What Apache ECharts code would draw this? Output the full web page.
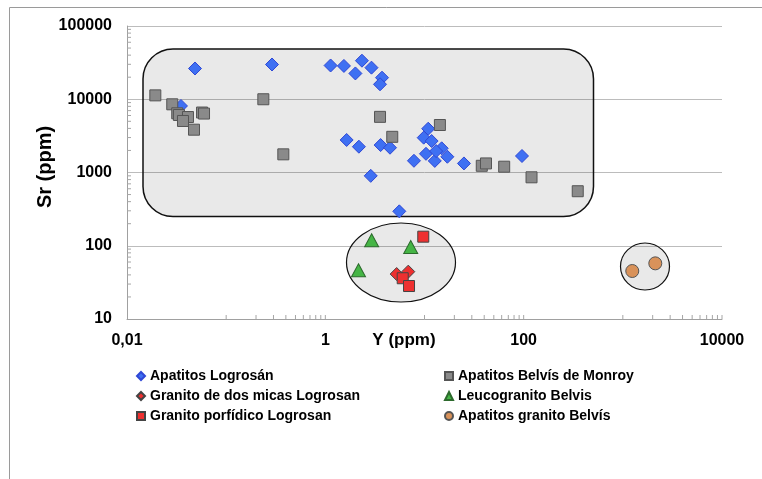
<!DOCTYPE html>
<html>
<head>
<meta charset="utf-8">
<script src="https://cdn.jsdelivr.net/npm/echarts@6/dist/echarts.min.js"></script>
<style>html,body{margin:0;padding:0;background:#fff;}#c{width:762px;height:479px;}</style>
</head>
<body>
<div id="c"></div>
<script>
// ---- data (Y ppm, Sr ppm) ----
const apatitosLogrosan = [[0.0485,26300],[0.035,8100],[0.29,29800],[1.13,28900],[1.54,28500],[2.01,22500],[2.34,33600],[2.92,27000],[3.73,19700],[3.56,16000],[1.64,2780],[2.18,2250],[3.61,2370],[4.49,2180],[2.87,900],[5.57,295],[10.9,3960],[9.82,2990],[11.8,2690],[14.9,2140],[10.35,1800],[12.7,1440],[17.0,1640],[7.83,1445],[25.0,1330],[96.2,1680],[13.1,1960]];
const apatitosBelvisMonroy = [[0.0193,11300],[0.0286,8530],[0.0321,6430],[0.0334,6100],[0.0412,5720],[0.0367,5050],[0.0571,6590],[0.0598,6380],[0.0474,3840],[0.237,10000],[0.377,1770],[3.56,5750],[4.73,3070],[14.3,4450],[37.8,1235],[41.7,1330],[63.6,1200],[120,860],[351,555]];
const granitoDosMicas = [[5.24,41.1],[6.86,44.3]];
const leucogranitoBelvis = [[2.93,118.7],[7.26,96.2],[2.16,46.2]];
const granitoPorfidico = [[9.72,133],[6.03,36.0],[6.98,28.2]];
const apatitosGranitoBelvis = [[1245,45.2],[2125,57.5]];
const xTickLabels = ['0,01','1','100','10000'];
const yTickLabels = ['10','100','1000','10000','100000'];
const seriesNames = ['Apatitos Logrosán','Apatitos Belvís de Monroy','Granito de dos micas Logrosan','Leucogranito Belvis','Granito porfídico Logrosan','Apatitos granito Belvís'];
// minor tick decades
const xTickDecades = [-1, 1, 3];
const yTickDecades = [1, 2, 3, 4];

const FONT = "'Liberation Sans', Arial, sans-serif";
const chart = echarts.init(document.getElementById('c'), null, {renderer:'canvas'});

function fmtX(v){
  if (v < 1) return v.toFixed(2).replace('.', ',');
  return String(Math.round(v));
}

const tickSeries = {
  type: 'custom',
  silent: true,
  z: 3,
  data: [[1, 10]],
  renderItem: function(params, api){
    const children = [];
    xTickDecades.forEach(function(d){
      for (let k = 1; k <= 10; k++){
        const v = k * Math.pow(10, d);
        const p = api.coord([v, 10]);
        children.push({type:'line', shape:{x1:p[0], y1:p[1], x2:p[0], y2:p[1]-4}, style:{stroke:'#a6a6a6', lineWidth:1}});
      }
    });
    yTickDecades.forEach(function(d){
      for (let k = 2; k <= 9; k++){
        const v = k * Math.pow(10, d);
        const p = api.coord([0.01, v]);
        children.push({type:'line', shape:{x1:p[0], y1:p[1], x2:p[0]+4, y2:p[1]}, style:{stroke:'#a6a6a6', lineWidth:1}});
      }
    });
    return {type:'group', children: children};
  }
};

const option = {
  backgroundColor: '#fff',
  animation: false,
  textStyle: {fontFamily: FONT},
  grid: {left:127, right:40, top:26, bottom:160, containLabel:false},
  graphic: [
    {type:'rect', z:-10, silent:true, shape:{x:9.5, y:7.5, width:800, height:500}, style:{fill:'none', stroke:'#9a9a9a', lineWidth:1}},
    {type:'rect', z:1, silent:true, shape:{x:143, y:49, width:450.5, height:167.5, r:30}, style:{fill:'rgba(0,0,0,0.085)', stroke:'#111', lineWidth:1.5}},
    {type:'ellipse', z:1, silent:true, shape:{cx:401, cy:262.5, rx:54.5, ry:39.5}, style:{fill:'rgba(0,0,0,0.085)', stroke:'#111', lineWidth:1.2}},
    {type:'ellipse', z:1, silent:true, shape:{cx:645, cy:266.5, rx:24.5, ry:23.5}, style:{fill:'rgba(0,0,0,0.085)', stroke:'#111', lineWidth:1.2}}
  ],
  xAxis: {
    type:'log', logBase:100, min:0.01, max:10000,
    name:'Y (ppm)', nameLocation:'middle', nameGap:13, nameMoveOverlap:false,
    nameTextStyle:{fontFamily:FONT, fontWeight:'bold', fontSize:17, color:'#000', verticalAlign:'top', padding:[0,41,0,0]},
    axisLine:{lineStyle:{color:'#a0a0a0', width:1}},
    axisTick:{show:false},
    splitLine:{show:false},
    axisLabel:{fontFamily:FONT, fontWeight:'bold', fontSize:16, color:'#000', margin:14,
      formatter:function(v){ const s = fmtX(v); return xTickLabels.indexOf(s) >= 0 ? s : ''; }}
  },
  yAxis: {
    type:'log', logBase:10, min:10, max:100000,
    name:'Sr (ppm)', nameLocation:'middle', nameGap:72, nameRotate:90, nameMoveOverlap:false,
    nameTextStyle:{fontFamily:FONT, fontWeight:'bold', fontSize:20, color:'#000', padding:[0,0,0,11]},
    axisLine:{show:true, lineStyle:{color:'#a0a0a0', width:1}},
    axisTick:{show:false},
    splitLine:{show:true, lineStyle:{color:'#bcbcbc', width:1}},
    axisLabel:{fontFamily:FONT, fontWeight:'bold', fontSize:16, color:'#000', margin:15,
      formatter:function(v){ const s = String(Math.round(v)); return yTickLabels.indexOf(s) >= 0 ? s : ''; }}
  },
  legend: [
    {left:131, top:364, orient:'vertical', itemWidth:8, itemHeight:8, itemGap:6,
      textStyle:{fontFamily:FONT, fontWeight:'bold', fontSize:14, color:'#000', lineHeight:14},
      data:[seriesNames[0], seriesNames[2], seriesNames[4]]},
    {left:439, top:364, orient:'vertical', itemWidth:8, itemHeight:8, itemGap:6,
      textStyle:{fontFamily:FONT, fontWeight:'bold', fontSize:14, color:'#000', lineHeight:14},
      data:[seriesNames[1], seriesNames[3], seriesNames[5]]}
  ],
  series: [
    {name:seriesNames[0], type:'scatter', data:apatitosLogrosan, symbol:'diamond', symbolSize:13, z:5,
      itemStyle:{color:'#3f70f2', borderColor:'#2f48d6', borderWidth:1, opacity:1}},
    {name:seriesNames[1], type:'scatter', data:apatitosBelvisMonroy, symbol:'rect', symbolSize:11, z:5,
      itemStyle:{color:'#8a8a8a', borderColor:'#555', borderWidth:1, opacity:1}},
    {name:seriesNames[2], type:'scatter', data:granitoDosMicas, symbol:'diamond', symbolSize:13, z:5,
      itemStyle:{color:'#ee3030', borderColor:'#444', borderWidth:1, opacity:1}},
    {name:seriesNames[3], type:'scatter', data:leucogranitoBelvis, symbol:'triangle', symbolSize:[14,13], z:5,
      itemStyle:{color:'#45b545', borderColor:'#2d6a2d', borderWidth:1, opacity:1}},
    {name:seriesNames[4], type:'scatter', data:granitoPorfidico, symbol:'rect', symbolSize:11, z:5,
      itemStyle:{color:'#ee3030', borderColor:'#444', borderWidth:1, opacity:1}},
    {name:seriesNames[5], type:'scatter', data:apatitosGranitoBelvis, symbol:'circle', symbolSize:13, z:5,
      itemStyle:{color:'#d9925a', borderColor:'#555', borderWidth:1, opacity:1}},
    tickSeries
  ]
};
chart.setOption(option);
</script>
</body>
</html>
